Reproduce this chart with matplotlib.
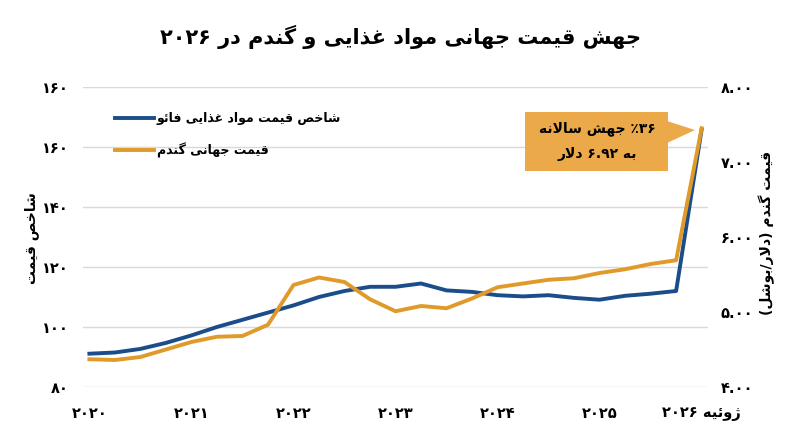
import matplotlib
matplotlib.use('Agg')
import matplotlib.pyplot as plt
from matplotlib import font_manager
from matplotlib.ft2font import FT2Font
from matplotlib.patches import Rectangle, Polygon

# ---------------- data ----------------
x_tick_labels = ['۲۰۲۰', '۲۰۲۱', '۲۰۲۲', '۲۰۲۳', '۲۰۲۴', '۲۰۲۵', 'ژوئیه ۲۰۲۶']
fao_index = [91.1, 91.5, 92.7, 94.7, 97.2, 100.0, 102.4, 104.8, 107.2, 110.0,
             112.0, 113.4, 113.4, 114.5, 112.2, 111.7, 110.6, 110.2, 110.6,
             109.7, 109.1, 110.4, 111.1, 112.0, 165.8]
wheat_price = [4.37, 4.36, 4.40, 4.50, 4.60, 4.67, 4.68, 4.83, 5.36, 5.46,
               5.40, 5.17, 5.01, 5.08, 5.05, 5.18, 5.33, 5.38, 5.43, 5.45,
               5.52, 5.57, 5.64, 5.69, 7.45]
left_ticks = [80, 100, 120, 140, 160, 180]
left_tick_labels = ['۸۰', '۱۰۰', '۱۲۰', '۱۴۰', '۱۶۰', '۱۶۰']
right_ticks = [4, 5, 6, 7, 8]
right_tick_labels = ['۴.۰۰', '۵.۰۰', '۶.۰۰', '۷.۰۰', '۸.۰۰']
title_text = 'جهش قیمت جهانی مواد غذایی و گندم در ۲۰۲۶'
series_names = ['شاخص قیمت مواد غذایی فائو', 'قیمت جهانی گندم']
left_label = 'شاخص قیمت'
right_label = 'قیمت گندم (دلار/بوشل)'
callout_lines = ['٪۳۶ جهش سالانه', 'به ۶.۹۲ دلار']

# ---------------- minimal Persian shaping ----------------
FORMS = {  # isolated, final, initial, medial
    'ا': ('\uFE8D', '\uFE8E', None, None),
    'ب': ('\uFE8F', '\uFE90', '\uFE91', '\uFE92'),
    'ت': ('\uFE95', '\uFE96', '\uFE97', '\uFE98'),
    'ج': ('\uFE9D', '\uFE9E', '\uFE9F', '\uFEA0'),
    'خ': ('\uFEA5', '\uFEA6', '\uFEA7', '\uFEA8'),
    'د': ('\uFEA9', '\uFEAA', None, None),
    'ذ': ('\uFEAB', '\uFEAC', None, None),
    'ر': ('\uFEAD', '\uFEAE', None, None),
    'س': ('\uFEB1', '\uFEB2', '\uFEB3', '\uFEB4'),
    'ش': ('\uFEB5', '\uFEB6', '\uFEB7', '\uFEB8'),
    'ص': ('\uFEB9', '\uFEBA', '\uFEBB', '\uFEBC'),
    'غ': ('\uFECD', '\uFECE', '\uFECF', '\uFED0'),
    'ف': ('\uFED1', '\uFED2', '\uFED3', '\uFED4'),
    'ق': ('\uFED5', '\uFED6', '\uFED7', '\uFED8'),
    'ل': ('\uFEDD', '\uFEDE', '\uFEDF', '\uFEE0'),
    'م': ('\uFEE1', '\uFEE2', '\uFEE3', '\uFEE4'),
    'ن': ('\uFEE5', '\uFEE6', '\uFEE7', '\uFEE8'),
    'ه': ('\uFEE9', '\uFEEA', '\uFEEB', '\uFEEC'),
    'و': ('\uFEED', '\uFEEE', None, None),
    'ئ': ('\uFE89', '\uFE8A', '\uFE8B', '\uFE8C'),
    'ی': ('\uFBFC', '\uFBFD', '\uFBFE', '\uFBFF'),
    'گ': ('\uFB92', '\uFB93', '\uFB94', '\uFB95'),
    'ژ': ('\uFB8A', '\uFB8B', None, None),
}
MIRROR = {'(': ')', ')': '('}
LTR_CHARS = set('۰۱۲۳۴۵۶۷۸۹0123456789.٪%')


def shape(s):
    out = []
    i = 0
    n = len(s)
    while i < n:
        c = s[i]
        if c not in FORMS:
            out.append(c)
            i += 1
            continue
        prev = s[i - 1] if i > 0 else ''
        pj = prev in FORMS and FORMS[prev][2] is not None
        if c == 'ل' and i + 1 < n and s[i + 1] == 'ا':
            out.append('\uFEFC' if pj else '\uFEFB')
            i += 2
            continue
        nxt = s[i + 1] if i + 1 < n else ''
        nj = nxt in FORMS and FORMS[c][2] is not None
        iso, fin, ini, med = FORMS[c]
        if pj and nj:
            out.append(med)
        elif pj:
            out.append(fin)
        elif nj:
            out.append(ini)
        else:
            out.append(iso)
        i += 1
    return ''.join(out)


def rtl(s):
    sh = shape(s)
    runs = []
    for ch in sh:
        is_ltr = ch in LTR_CHARS
        if runs and runs[-1][0] == is_ltr:
            runs[-1][1].append(ch)
        else:
            runs.append([is_ltr, [ch]])
    parts = []
    for is_ltr, chars in reversed(runs):
        if is_ltr:
            parts.append(''.join(chars))
        else:
            parts.append(''.join(MIRROR.get(c, c) for c in reversed(chars)))
    return ''.join(parts)


# choose a weight of DejaVu Sans that has the presentation forms
need = set(''.join(shape(t) for t in [title_text, left_label, right_label] + series_names + callout_lines + x_tick_labels))
WEIGHT = 'bold'
try:
    path = font_manager.findfont(font_manager.FontProperties(family='DejaVu Sans', weight='bold'))
    cmap = FT2Font(path).get_charmap()
    if any(ord(c) not in cmap for c in need if ord(c) > 127):
        WEIGHT = 'normal'
except Exception:
    pass

plt.rcParams['font.family'] = ['DejaVu Sans']

BLUE = '#1B4D8A'
ORANGE = '#E09A2A'
BOX = '#EBA94A'
GRID = '#D9D9D9'

W, H = 800, 447
fig = plt.figure(figsize=(W / 100, H / 100), dpi=100)


def fx(px):
    return px / W


def fy(py):
    return (H - py) / H


ax = fig.add_axes([fx(83), fy(387), fx(708) - fx(83), fy(87) - fy(387)])
ax2 = ax.twinx()

xs = list(range(len(fao_index)))
l1, = ax.plot(xs, fao_index, color=BLUE, lw=2.8, solid_joinstyle='round', zorder=3)
l2, = ax2.plot(xs, wheat_price, color=ORANGE, lw=2.8, solid_joinstyle='round', zorder=3)

ax.set_xlim(-0.25, len(xs) - 0.75)
ax.set_ylim(80, 180)
ax2.set_ylim(4, 8)

ax.set_yticks(left_ticks)
ax.set_yticklabels(left_tick_labels, fontsize=10.5, fontweight='bold')
ax2.set_yticks(right_ticks)
ax2.set_yticklabels(right_tick_labels, fontsize=10.5, fontweight='bold')
ax.set_xticks(xs[::4])
ax.set_xticklabels([rtl(t) for t in x_tick_labels], fontsize=10.5, fontweight=WEIGHT)

ax.grid(axis='y', color=GRID, lw=1)
ax.set_axisbelow(True)
for a in (ax, ax2):
    for sp in a.spines.values():
        sp.set_visible(False)
    a.tick_params(length=0)
ax.tick_params(axis='y', pad=10)
ax2.tick_params(axis='y', pad=9)
ax.tick_params(axis='x', pad=14)

leg = ax2.legend([l1, l2], [rtl(t) for t in series_names], loc='upper left',
                 bbox_to_anchor=((115 - 83) / 625, (387 - 112) / 300),
                 frameon=False, fontsize=9, handlelength=3.1, handletextpad=0.25,
                 borderpad=0, borderaxespad=0, labelspacing=1.4)
for t in leg.get_texts():
    t.set_fontweight(WEIGHT)

fig.text(0.5, fy(37), rtl(title_text), ha='center', va='center', fontsize=15, fontweight=WEIGHT)
fig.text(fx(32), fy(238), rtl(left_label), rotation=90, ha='center', va='center', fontsize=10, fontweight=WEIGHT)
fig.text(fx(767), fy(233), rtl(right_label), rotation=90, ha='center', va='center', fontsize=10, fontweight=WEIGHT)

# callout box
fig.patches.append(Rectangle((fx(525), fy(171)), fx(668) - fx(525), fy(112) - fy(171),
                             transform=fig.transFigure, facecolor=BOX, edgecolor='none', zorder=5))
fig.patches.append(Polygon([(fx(667), fy(121)), (fx(667), fy(143)), (fx(695), fy(130))], closed=True,
                           transform=fig.transFigure, facecolor=BOX, edgecolor='none', zorder=5))
fig.text(fx(597), fy(129), rtl(callout_lines[0]), ha='center', va='center', fontsize=10, fontweight=WEIGHT, zorder=6)
fig.text(fx(597), fy(154), rtl(callout_lines[1]), ha='center', va='center', fontsize=10, fontweight=WEIGHT, zorder=6)

fig.savefig('out.png', dpi=100, facecolor='white')
